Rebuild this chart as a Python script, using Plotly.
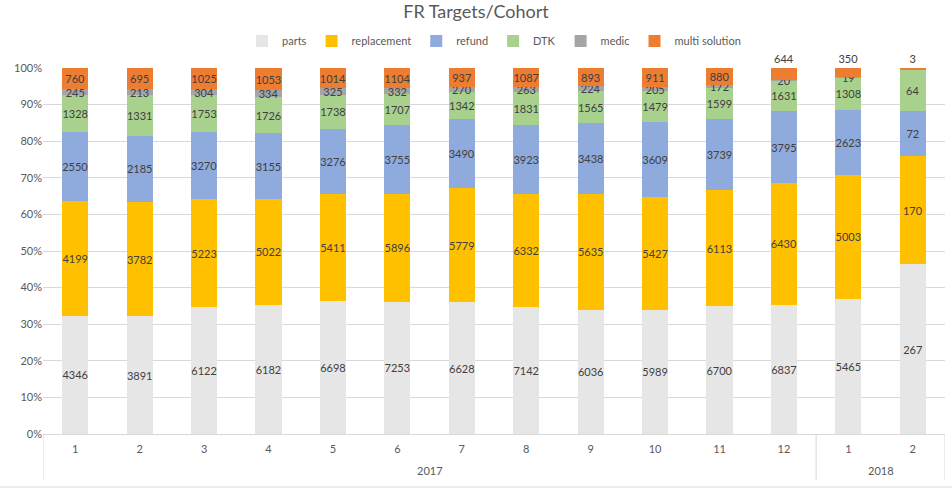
import plotly.graph_objects as go

years = ["2017"] * 12 + ["2018"] * 2
months = [str(m) for m in range(1, 13)] + ["1", "2"]
year_labels = ["2017", "2018"]

parts = [4346, 3891, 6122, 6182, 6698, 7253, 6628, 7142, 6036, 5989, 6700, 6837, 5465, 267]
replacement = [4199, 3782, 5223, 5022, 5411, 5896, 5779, 6332, 5635, 5427, 6113, 6430, 5003, 170]
refund = [2550, 2185, 3270, 3155, 3276, 3755, 3490, 3923, 3438, 3609, 3739, 3795, 2623, 72]
dtk = [1328, 1331, 1753, 1726, 1738, 1707, 1342, 1831, 1565, 1479, 1599, 1631, 1308, 64]
medic = [245, 213, 304, 334, 325, 332, 270, 263, 224, 205, 172, 20, 19, 0]
multi = [760, 695, 1025, 1053, 1014, 1104, 937, 1087, 893, 911, 880, 644, 350, 3]

series = [
    ("parts", parts, "#E7E6E6"),
    ("replacement", replacement, "#FFC000"),
    ("refund", refund, "#8FAADC"),
    ("DTK", dtk, "#A9D18E"),
    ("medic", medic, "#A5A5A5"),
    ("multi solution", multi, "#ED7D31"),
]

W, H = 952, 490
L, R, T, B = 43, 7, 68, 56
PH = H - T - B

xs = list(range(len(months)))
FONT = "Lato, sans-serif"
fig = go.Figure()
for name, vals, col in series:
    if name == "multi solution":
        pos = ["inside"] * 11 + ["outside"] * 3
    else:
        pos = "inside"
    fig.add_trace(go.Bar(
        name=name, x=xs, y=vals, marker_color=col,
        marker_line_width=0,
        text=[str(v) for v in vals], texttemplate="%{text}",
        textposition=pos, insidetextanchor="middle", textangle=0,
        cliponaxis=False,
        textfont=dict(color="#404040", size=11, family=FONT),
        hoverinfo="skip",
    ))

# group boundaries and centres derived from the year list
bounds = [-0.5]
centres = []
start = 0
for i in range(1, len(years) + 1):
    if i == len(years) or years[i] != years[start]:
        bounds.append(i - 0.5)
        centres.append((start + i - 1) / 2)
        start = i

shapes = []
for b in bounds:
    shapes.append(dict(type="line", xref="x", yref="paper", x0=b, x1=b,
                       y0=0, y1=-(480 - 434) / PH, line=dict(color="#D9D9D9", width=1)))
shapes.append(dict(type="line", xref="paper", yref="paper", x0=-L / (W - L - R), x1=1 + R / (W - L - R),
                   y0=-(487 - 434) / PH, y1=-(487 - 434) / PH, line=dict(color="#D9D9D9", width=1)))

annotations = []
for c, yl in zip(centres, year_labels):
    annotations.append(dict(x=c, xref="x", y=-(470 - 434) / PH, yref="paper", text=yl,
                            showarrow=False, yanchor="middle", xanchor="center",
                            font=dict(size=11, color="#595959", family=FONT)))

fig.update_layout(
    barmode="stack", barnorm="percent", bargap=0.595,
    width=W, height=H,
    margin=dict(l=L, r=R, t=T, b=B, autoexpand=False),
    paper_bgcolor="white", plot_bgcolor="white",
    font=dict(family=FONT, color="#595959", size=12),
    title=dict(text="FR Targets/Cohort", x=0.5, xanchor="center",
               yref="container", y=1 - 12 / H, yanchor="middle",
               font=dict(size=18, color="#595959", family=FONT)),
    legend=dict(orientation="h", x=0.5, xanchor="center",
                yref="container", y=1 - 41 / H, yanchor="middle",
                font=dict(size=11, color="#595959"), traceorder="normal",
                itemwidth=30),
    uniformtext=dict(minsize=11, mode="show"),
    shapes=shapes, annotations=annotations,
    showlegend=True,
)
fig.update_yaxes(range=[0, 100], dtick=10, ticksuffix="%", gridcolor="#D9D9D9",
                 zeroline=False, showline=False, tickfont=dict(size=11, color="#595959"),
                 automargin=False)
fig.update_xaxes(range=[-0.5, len(months) - 0.5], tickmode="array", tickvals=xs, ticktext=months,
                 showline=True, linecolor="#D9D9D9", showgrid=False, zeroline=False,
                 ticks="", ticklabelstandoff=5,
                 tickfont=dict(size=11, color="#595959"), automargin=False)
fig.write_html("out.html", config={"displayModeBar": False},
               post_script="document.body.style.margin='0px';document.body.style.padding='0px';")
